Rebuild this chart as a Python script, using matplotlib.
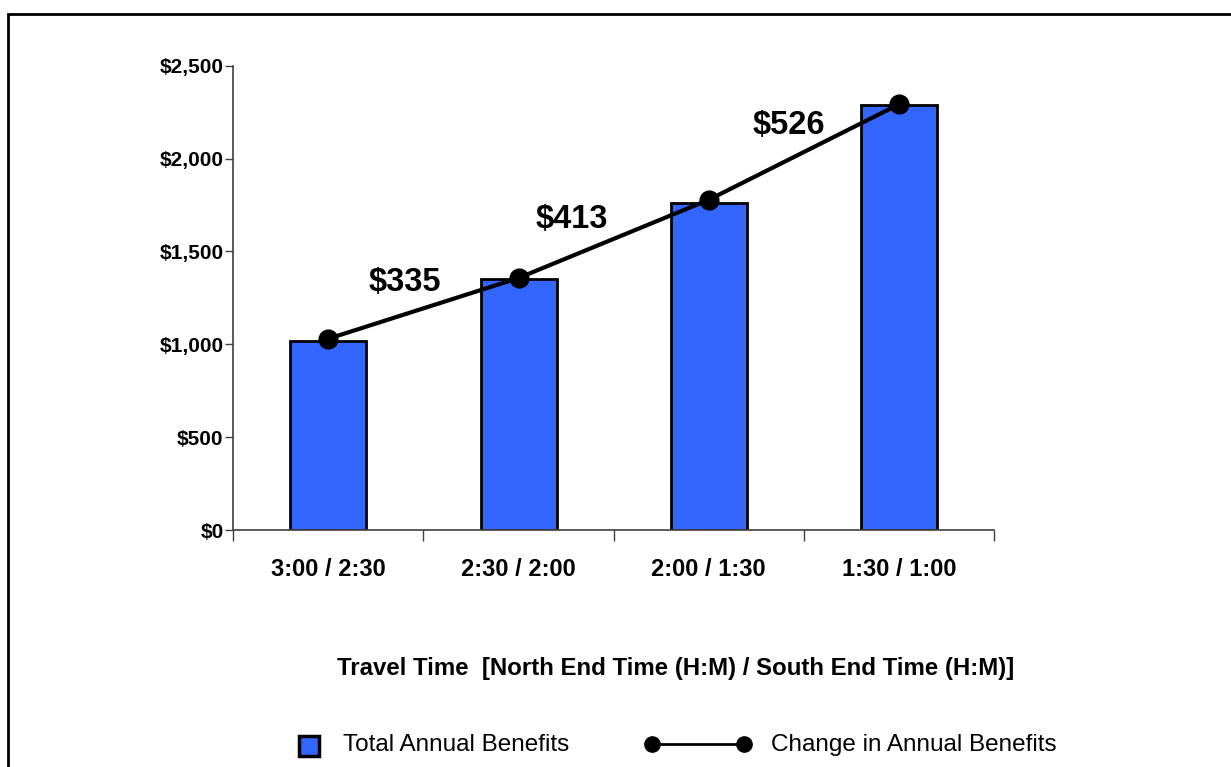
import matplotlib
matplotlib.use("Agg")
import matplotlib.pyplot as plt
from matplotlib.lines import Line2D
from matplotlib.patches import Rectangle
from matplotlib.ticker import FuncFormatter

plt.rcParams['font.family'] = ['Liberation Sans', 'DejaVu Sans']

categories = ["3:00 / 2:30", "2:30 / 2:00", "2:00 / 1:30", "1:30 / 1:00"]
total_benefits = [1018, 1353, 1762, 2288]
change_line = [1030, 1357, 1778, 2292]
change_labels = ["$335", "$413", "$526"]
yticks = [0, 500, 1000, 1500, 2000, 2500]

BAR_COLOR = "#3366FF"

fig = plt.figure(figsize=(12.31, 7.67), dpi=100)
ax = fig.add_axes([233.3 / 1231, 1 - 530 / 767, (994 - 233.3) / 1231, (530 - 65.7) / 767])

x = list(range(len(categories)))
ax.bar(x, total_benefits, width=0.40, color=BAR_COLOR, edgecolor="black", linewidth=2, zorder=2)
ax.plot(x, change_line, color="black", linewidth=3, marker="o", markersize=13.5, zorder=3)

# change labels placed between consecutive points
label_pos = [(0.40, 1330), (1.28, 1670), (2.42, 2180)]
for (lx, ly), txt in zip(label_pos, change_labels):
    ax.text(lx, ly, txt, fontsize=23.5, fontweight="bold", ha="center", va="center")

ax.set_xlim(-0.5, len(categories) - 0.5)
ax.set_ylim(0, 2500)
ax.set_yticks(yticks)
ax.yaxis.set_major_formatter(FuncFormatter(lambda v, p: "${:,.0f}".format(v)))
ax.set_xticks([i - 0.5 for i in range(len(categories) + 1)])
ax.set_xticklabels([])
ax.set_xticks(x, minor=True)
ax.set_xticklabels(categories, minor=True)
ax.tick_params(axis="x", which="minor", length=0, pad=20, labelsize=17)
ax.tick_params(axis="x", which="major", direction="out", length=8, width=1, color="#404040")
ax.tick_params(axis="y", direction="out", length=6, width=1, color="#404040", labelsize=15, pad=1)
for lab in ax.get_xticklabels(minor=True) + ax.get_yticklabels():
    lab.set_fontweight("bold")

for s in ["top", "right"]:
    ax.spines[s].set_visible(False)
for s in ["left", "bottom"]:
    ax.spines[s].set_color("#404040")
    ax.spines[s].set_linewidth(1.2)

fig.text(676 / 1231, 1 - 668 / 767, "Travel Time  [North End Time (H:M) / South End Time (H:M)]",
         fontsize=17.3, fontweight="bold", ha="center", va="center")

# legend (manual)
fig.add_artist(Rectangle(((308.7 - 10) / 1231, 1 - (745.5 + 10) / 767), 20 / 1231, 20 / 767,
                         transform=fig.transFigure, facecolor=BAR_COLOR, edgecolor="black", linewidth=2.5))
fig.text(343 / 1231, 1 - 745 / 767, "Total Annual Benefits", fontsize=17.5, ha="left", va="center")
fig.add_artist(Line2D([651.7 / 1231, 744 / 1231], [1 - 743.5 / 767, 1 - 743.5 / 767],
                      transform=fig.transFigure, color="black", linewidth=2,
                      marker="o", markersize=11))
fig.text(771 / 1231, 1 - 745 / 767, "Change in Annual Benefits", fontsize=17.5, ha="left", va="center")

# outer border
fig.add_artist(Rectangle((7.5 / 1231, -0.1), 1.2, 1.1 - 14 / 767, transform=fig.transFigure,
                         fill=False, edgecolor="black", linewidth=2, clip_on=False))

fig.savefig("out.png", dpi=100)
